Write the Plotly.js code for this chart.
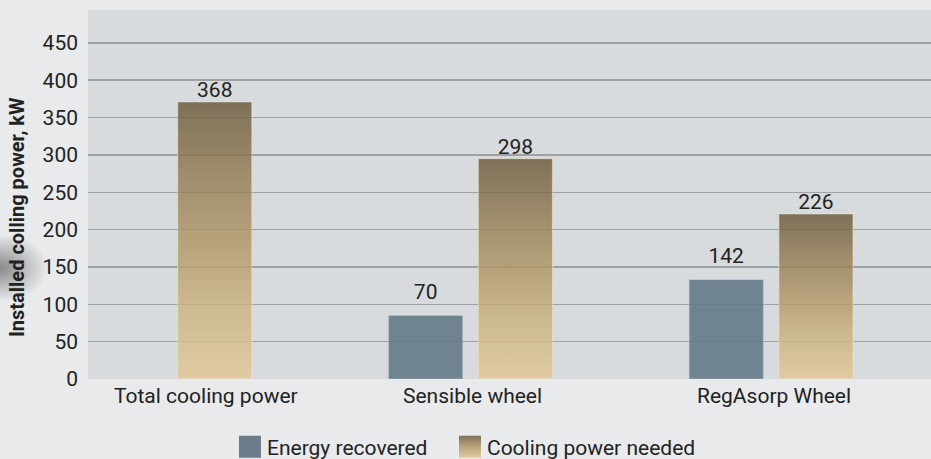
<!DOCTYPE html>
<html>
<head>
<meta charset="utf-8">
<script src="https://cdn.plot.ly/plotly-3.0.1.min.js"></script>
<style>
  html, body { margin: 0; padding: 0; }
  body {
    width: 931px; height: 459px; overflow: hidden;
    background: radial-gradient(ellipse 48px 34px at 0px 268px, rgba(105,105,108,0.75), rgba(233,234,236,0) 100%), #e9eaec;
  }
  #chart { width: 931px; height: 459px; }
</style>
</head>
<body>
<div id="chart"></div>
<script>
// ---- data ----
const categories = ['Total cooling power', 'Sensible wheel', 'RegAsorp Wheel'];
const energyRecovered = [null, 85, 133];          // bar heights as drawn
const energyLabels = ['', '70', '142'];           // printed labels
const coolingNeeded = [371, 295, 221];            // bar heights as drawn
const coolingLabels = ['368', '298', '226'];      // printed labels
const yTicks = [0, 50, 100, 150, 200, 250, 300, 350, 400, 450];
const seriesNames = ['Energy recovered', 'Cooling power needed'];

// ---- styling ----
const FONT = 'Roboto, "Open Sans", sans-serif';
const TXT = '#222222';
const FS = 21;
const labelShift = [0.12, 0.005, 0.011];

const traces = [
  {
    type: 'bar', name: seriesNames[0], x: categories, y: energyRecovered,
    text: energyLabels, textposition: 'outside', cliponaxis: false,
    textfont: {family: FONT, size: FS, color: TXT},
    marker: {color: 'rgba(101,121,135,0.9)', line: {color: 'rgba(190,200,208,0.45)', width: 1}},
    legendwidth: 175,
    hoverinfo: 'skip'
  },
  {
    type: 'bar', name: seriesNames[1], x: categories, y: coolingNeeded,
    text: coolingLabels, textposition: 'outside', cliponaxis: false,
    textfont: {family: FONT, size: FS, color: TXT},
    marker: {color: '#b9a37b', line: {color: 'rgba(238,228,205,0.6)', width: 1}},
    legendwidth: 230,
    hoverinfo: 'skip'
  }
];

const annotations = categories.map((c, i) => ({
  text: c, xref: 'x', yref: 'paper', x: i + labelShift[i], y: 0,
  xanchor: 'center', yanchor: 'middle', yshift: -17, showarrow: false,
  font: {family: FONT, size: FS, color: TXT}
}));
annotations.push({
  text: '<b>Installed colling power, kW</b>', textangle: -90,
  xref: 'paper', yref: 'paper', x: -0.0842, y: 0.439,
  xanchor: 'center', yanchor: 'middle', showarrow: false,
  font: {family: FONT, size: 20, color: TXT}
});

const layout = {
  width: 931, height: 459,
  margin: {l: 88, r: 0, t: 10, b: 80, pad: 0},
  paper_bgcolor: 'rgba(0,0,0,0)',
  plot_bgcolor: '#d8dbde',
  barmode: 'group', bargap: 0.403, bargroupgap: 0.174,
  font: {family: FONT, size: FS, color: TXT},
  xaxis: {
    type: 'category', range: [-0.2725, 2.532], showticklabels: false,
    showgrid: false, zeroline: false, showline: false, ticks: '', fixedrange: true
  },
  yaxis: {
    range: [0, 494], tickmode: 'array', tickvals: yTicks, ticktext: yTicks.map(String),
    showgrid: true, gridcolor: '#9fa2a5', gridwidth: 1.5, zeroline: false, showline: false,
    ticks: '', ticklabelstandoff: 9, tickfont: {family: FONT, size: FS, color: TXT}, fixedrange: true
  },
  showlegend: true,
  legend: {
    orientation: 'h', xref: 'container', yref: 'container',
    x: 0.2438, xanchor: 'left', y: 0.026, yanchor: 'middle',
    font: {family: FONT, size: FS, color: TXT}, bgcolor: 'rgba(0,0,0,0)',
    traceorder: 'normal'
  },
  annotations: annotations
};

function addGradient(svg, id, stops) {
  const NS = 'http://www.w3.org/2000/svg';
  let defs = svg.querySelector('defs');
  if (!defs) { defs = document.createElementNS(NS, 'defs'); svg.insertBefore(defs, svg.firstChild); }
  const g = document.createElementNS(NS, 'linearGradient');
  g.setAttribute('id', id);
  g.setAttribute('x1', '0'); g.setAttribute('y1', '0'); g.setAttribute('x2', '0'); g.setAttribute('y2', '1');
  stops.forEach(s => {
    const st = document.createElementNS(NS, 'stop');
    st.setAttribute('offset', s[0]);
    st.setAttribute('stop-color', s[1]);
    st.setAttribute('stop-opacity', s[2]);
    g.appendChild(st);
  });
  defs.appendChild(g);
}

function shiftTexts(traceEl, dy) {
  traceEl.querySelectorAll('text').forEach(t => {
    const tr = t.getAttribute('transform') || '';
    t.setAttribute('transform', 'translate(0,' + dy + ') ' + tr);
  });
}

Plotly.newPlot('chart', traces, layout, {displayModeBar: false, staticPlot: true}).then(gd => {
  const svg = gd.querySelector('svg.main-svg');
  addGradient(svg, 'goldBar', [
    ['0', 'rgb(106,89,59)', 0.82], ['0.28', 'rgb(148,125,84)', 0.82],
    ['0.54', 'rgb(180,153,103)', 0.82], ['0.72', 'rgb(201,176,124)', 0.82],
    ['1', 'rgb(226,200,149)', 0.82]
  ]);
  addGradient(svg, 'goldLegend', [
    ['0', 'rgb(126,112,88)', 1], ['0.5', 'rgb(185,163,123)', 1], ['1', 'rgb(225,204,162)', 1]
  ]);
  const barTraces = gd.querySelectorAll('.barlayer .trace.bars');
  if (barTraces[1]) {
    barTraces[1].querySelectorAll('path').forEach(p => { p.style.fill = 'url(#goldBar)'; p.style.fillOpacity = 1; });
    shiftTexts(barTraces[1], 3);
  }
  if (barTraces[0]) shiftTexts(barTraces[0], -9);
  const legendPts = gd.querySelectorAll('.legend .traces .legendpoints path');
  legendPts.forEach((p, i) => {
    p.setAttribute('d', 'M14,11H-8V-11H14Z');
    p.style.stroke = 'none';
    if (i === 1) { p.style.fill = 'url(#goldLegend)'; p.style.fillOpacity = 1; }
    else { p.style.fill = 'rgb(107,125,139)'; p.style.fillOpacity = 1; }
  });
});
</script>
</body>
</html>
